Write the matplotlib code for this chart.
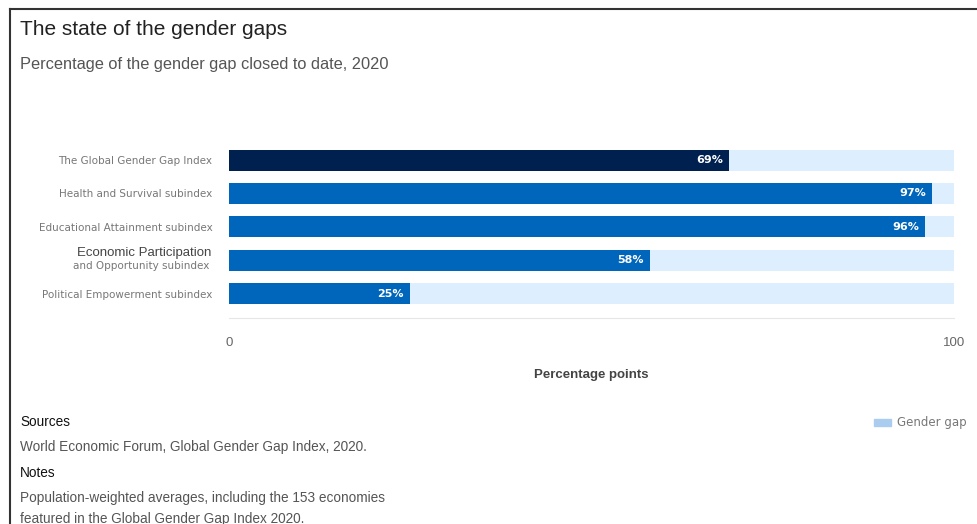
import matplotlib
matplotlib.use("Agg")
import matplotlib.pyplot as plt
from matplotlib.lines import Line2D
from matplotlib.patches import Patch

plt.rcParams['font.family'] = ['Liberation Sans', 'DejaVu Sans']

# Gender gap closed to date, 2020 (percent)
categories = [
    "The Global Gender Gap Index",
    "Health and Survival subindex",
    "Educational Attainment subindex",
    "Economic Participation\nand Opportunity subindex",
    "Political Empowerment subindex",
]
closed = [69, 97, 96, 58, 25]
full_scale = [100, 100, 100, 100, 100]
bar_colors = ["#002050", "#0066bb", "#0066bb", "#0066bb", "#0066bb"]

fig = plt.figure(figsize=(9.78, 5.24), dpi=100)
ax = fig.add_axes([0.2342, 0.3931, 0.7413, 0.3397])

ypos = list(range(len(categories)))
gap = ax.barh(ypos, full_scale, height=0.63, color="#ddeeff", zorder=1)
bars = ax.barh(ypos, closed, height=0.63, color=bar_colors, zorder=2)

for b, v in zip(bars, closed):
    ax.annotate(f"{v}%", (v, b.get_y() + b.get_height() / 2),
                xytext=(-4.5, 0), textcoords="offset points",
                ha="right", va="center", color="white", family="DejaVu Sans",
                fontsize=8, fontweight="bold", zorder=3)

ax.set_xlim(0, 100)
ax.set_ylim(4.73, -0.6)
ax.set_xticks([0, 100])
ax.set_xticklabels(["0", "100"], color="#666666", fontsize=9.5)
ax.tick_params(axis="x", length=0, pad=14)
ax.set_yticks(ypos)
labels = [c if "\n" not in c else "" for c in categories]
ax.set_yticklabels(labels, color="#777777", fontsize=7.5, family="DejaVu Sans")
ax.tick_params(axis="y", length=0, pad=12)

# the two-line label gets a larger first line
lab_tr = ax.get_yaxis_transform()
first, second = categories[3].split("\n")
ax.text(-0.024, 3 - 0.03, first, transform=lab_tr, ha="right", va="bottom",
        fontsize=9.5, color="#444444")
ax.text(-0.027, 3 + 0.03, second, transform=lab_tr, ha="right", va="top",
        fontsize=7.5, color="#777777", family="DejaVu Sans")

for s in ["top", "right", "left"]:
    ax.spines[s].set_visible(False)
ax.spines["bottom"].set_color("#e6e6e6")
ax.set_xlabel("Percentage points", fontsize=9.5, fontweight="bold",
              color="#444444", labelpad=14)

ax.legend(handles=[Patch(color="#aaccee", label="Gender gap")],
          loc="center left", bbox_to_anchor=(0.883, 0.193),
          bbox_transform=fig.transFigure, frameon=False,
          handlelength=1.4, handleheight=0.5, handletextpad=0.5,
          prop={"size": 8.5, "family": "DejaVu Sans"}, labelcolor="#777777")

fig.text(0.0204, 0.943, "The state of the gender gaps", fontsize=15,
         color="#222222", va="center")
fig.text(0.0204, 0.876, "Percentage of the gender gap closed to date, 2020",
         fontsize=11.8, color="#555555", va="center")
fig.text(0.0204, 0.194, "Sources", fontsize=9.8, color="#111111", va="center")
fig.text(0.0204, 0.147, "World Economic Forum, Global Gender Gap Index, 2020.",
         fontsize=9.8, color="#555555", va="center")
fig.text(0.0204, 0.097, "Notes", fontsize=9.8, color="#111111", va="center")
fig.text(0.0204, 0.050, "Population-weighted averages, including the 153 economies",
         fontsize=9.8, color="#555555", va="center")
fig.text(0.0204, 0.010, "featured in the Global Gender Gap Index 2020.",
         fontsize=9.8, color="#555555", va="center")

# outer frame on top and left
fig.add_artist(Line2D([0.0102, 1.0], [0.983, 0.983], transform=fig.transFigure,
                      color="#333333", linewidth=1.5))
fig.add_artist(Line2D([0.0102, 0.0102], [0.0, 0.983], transform=fig.transFigure,
                      color="#333333", linewidth=1.5))

fig.savefig("out.png", dpi=100)
